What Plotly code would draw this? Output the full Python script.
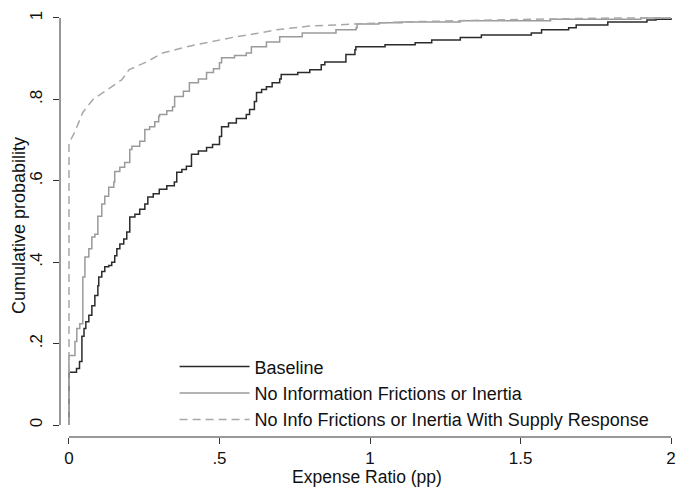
import plotly.graph_objects as go

# Empirical CDFs of fund expense ratios under three scenarios
baseline_x = [0.0, 0.0, 0.025, 0.035, 0.043, 0.05, 0.056, 0.066, 0.076, 0.086, 0.096, 0.099,
              0.109, 0.119, 0.132, 0.142, 0.152, 0.159, 0.169, 0.182, 0.192, 0.202, 0.219,
              0.235, 0.252, 0.262, 0.28, 0.30, 0.325, 0.35, 0.358, 0.375, 0.39, 0.407, 0.43,
              0.457, 0.477, 0.50, 0.507, 0.53, 0.556, 0.589, 0.60, 0.616, 0.623, 0.64, 0.656,
              0.675, 0.70, 0.705, 0.76, 0.80, 0.838, 0.85, 0.92, 0.95, 0.953, 1.05, 1.15, 1.205,
              1.30, 1.37, 1.536, 1.57, 1.66, 1.685, 1.79, 1.92, 1.95, 2.0]
baseline_y = [0.0, 0.13, 0.139, 0.156, 0.218, 0.237, 0.254, 0.27, 0.293, 0.318, 0.342, 0.364,
              0.377, 0.389, 0.392, 0.40, 0.416, 0.433, 0.445, 0.457, 0.474, 0.511, 0.518,
              0.53, 0.543, 0.56, 0.568, 0.579, 0.588, 0.597, 0.621, 0.628, 0.636, 0.665, 0.673,
              0.682, 0.689, 0.709, 0.733, 0.742, 0.753, 0.763, 0.775, 0.795, 0.817, 0.824, 0.831,
              0.841, 0.850, 0.861, 0.866, 0.873, 0.885, 0.892, 0.91, 0.922, 0.929, 0.934, 0.939, 0.946,
              0.952, 0.958, 0.963, 0.971, 0.976, 0.983, 0.99, 0.995, 0.997, 1.0]

nofric_x = [0.0, 0.0, 0.02, 0.026, 0.036, 0.046, 0.053, 0.066, 0.076, 0.086, 0.096, 0.109,
            0.119, 0.132, 0.149, 0.152, 0.169, 0.185, 0.202, 0.209, 0.235, 0.252, 0.268,
            0.285, 0.298, 0.301, 0.325, 0.344, 0.351, 0.38, 0.40, 0.43, 0.457, 0.48, 0.50,
            0.507, 0.55, 0.589, 0.606, 0.656, 0.70, 0.775, 0.887, 0.954, 0.957, 1.03, 1.106,
            1.3, 1.6, 1.9, 2.0]
nofric_y = [0.0, 0.171, 0.205, 0.237, 0.249, 0.364, 0.413, 0.433, 0.462, 0.469, 0.513, 0.543,
            0.562, 0.584, 0.597, 0.623, 0.633, 0.645, 0.677, 0.685, 0.697, 0.726, 0.733,
            0.745, 0.758, 0.763, 0.772, 0.782, 0.807, 0.82, 0.841, 0.85, 0.866, 0.875, 0.89,
            0.902, 0.908, 0.914, 0.929, 0.941, 0.954, 0.963, 0.971, 0.976, 0.985, 0.988, 0.99,
            0.993, 0.997, 1.0, 1.0]

supply_x = [0.0, 0.0, 0.02, 0.046, 0.08, 0.126, 0.175, 0.2, 0.258, 0.311, 0.39, 0.467, 0.556,
            0.632, 0.689, 0.798, 0.95, 1.1, 1.4, 1.8, 2.0]
supply_y = [0.0, 0.692, 0.721, 0.768, 0.80, 0.824, 0.848, 0.873, 0.892, 0.914, 0.929, 0.941,
            0.954, 0.963, 0.971, 0.98, 0.985, 0.99, 0.995, 1.0, 1.0]

series_names = ["Baseline",
                "No Information Frictions or Inertia",
                "No Info Frictions or Inertia With Supply Response"]

x_ticks = [0, 0.5, 1, 1.5, 2]
x_tick_text = ["0", ".5", "1", "1.5", "2"]
y_ticks = [0, 0.2, 0.4, 0.6, 0.8, 1]
y_tick_text = ["0", ".2", ".4", ".6", ".8", "1"]

FONT = "Liberation Sans, Arial, Helvetica, sans-serif"
AX = "#333333"

fig = go.Figure()
fig.add_trace(go.Scatter(x=baseline_x, y=baseline_y, mode="lines", name=series_names[0],
                         line=dict(color="#2b2b2b", width=1.5, shape="hv")))
fig.add_trace(go.Scatter(x=nofric_x, y=nofric_y, mode="lines", name=series_names[1],
                         line=dict(color="#9a9a9a", width=1.5, shape="hv")))
fig.add_trace(go.Scatter(x=supply_x, y=supply_y, mode="lines", name=series_names[2],
                         line=dict(color="#a8a8a8", width=1.5, dash="8px,5px")))

# Stata-style detached axis lines spanning only the tick range
fig.add_shape(type="line", xref="paper", yref="y", x0=0, x1=0, y0=0, y1=1,
              line=dict(color=AX, width=1))
fig.add_shape(type="line", xref="x", yref="paper", x0=0, x1=2, y0=0, y1=0,
              line=dict(color=AX, width=1))

# Vertical axis title placed close to the rotated tick labels
fig.add_annotation(text="Cumulative probability", xref="paper", yref="paper",
                   x=0, y=0.5, xanchor="center", yanchor="middle", xshift=-41,
                   textangle=-90, showarrow=False, font=dict(size=18))

fig.update_layout(
    width=679, height=487,
    margin=dict(l=60, r=3, t=15, b=48),
    plot_bgcolor="white", paper_bgcolor="white",
    font=dict(family=FONT, size=18, color="#111111"),
    showlegend=True,
    legend=dict(x=0.1866, y=0.210, xanchor="left", yanchor="top",
                bgcolor="rgba(0,0,0,0)", font=dict(size=18), itemwidth=70,
                tracegroupgap=0),
    xaxis=dict(range=[-0.0298, 2.0099], tickvals=x_ticks, ticktext=x_tick_text,
               ticks="outside", ticklen=6, tickcolor=AX, showline=False,
               showgrid=False, zeroline=False, tickfont=dict(size=17),
               title=dict(text="Expense Ratio (pp)", standoff=3, font=dict(size=17.5))),
    yaxis=dict(range=[-0.02934, 1.0073], tickvals=y_ticks, ticktext=y_tick_text,
               ticks="outside", ticklen=6, tickcolor=AX, tickangle=-90, showline=False,
               showgrid=False, zeroline=False, tickfont=dict(size=17),
               ticklabelstandoff=4),
)

fig.write_html("out.html")
